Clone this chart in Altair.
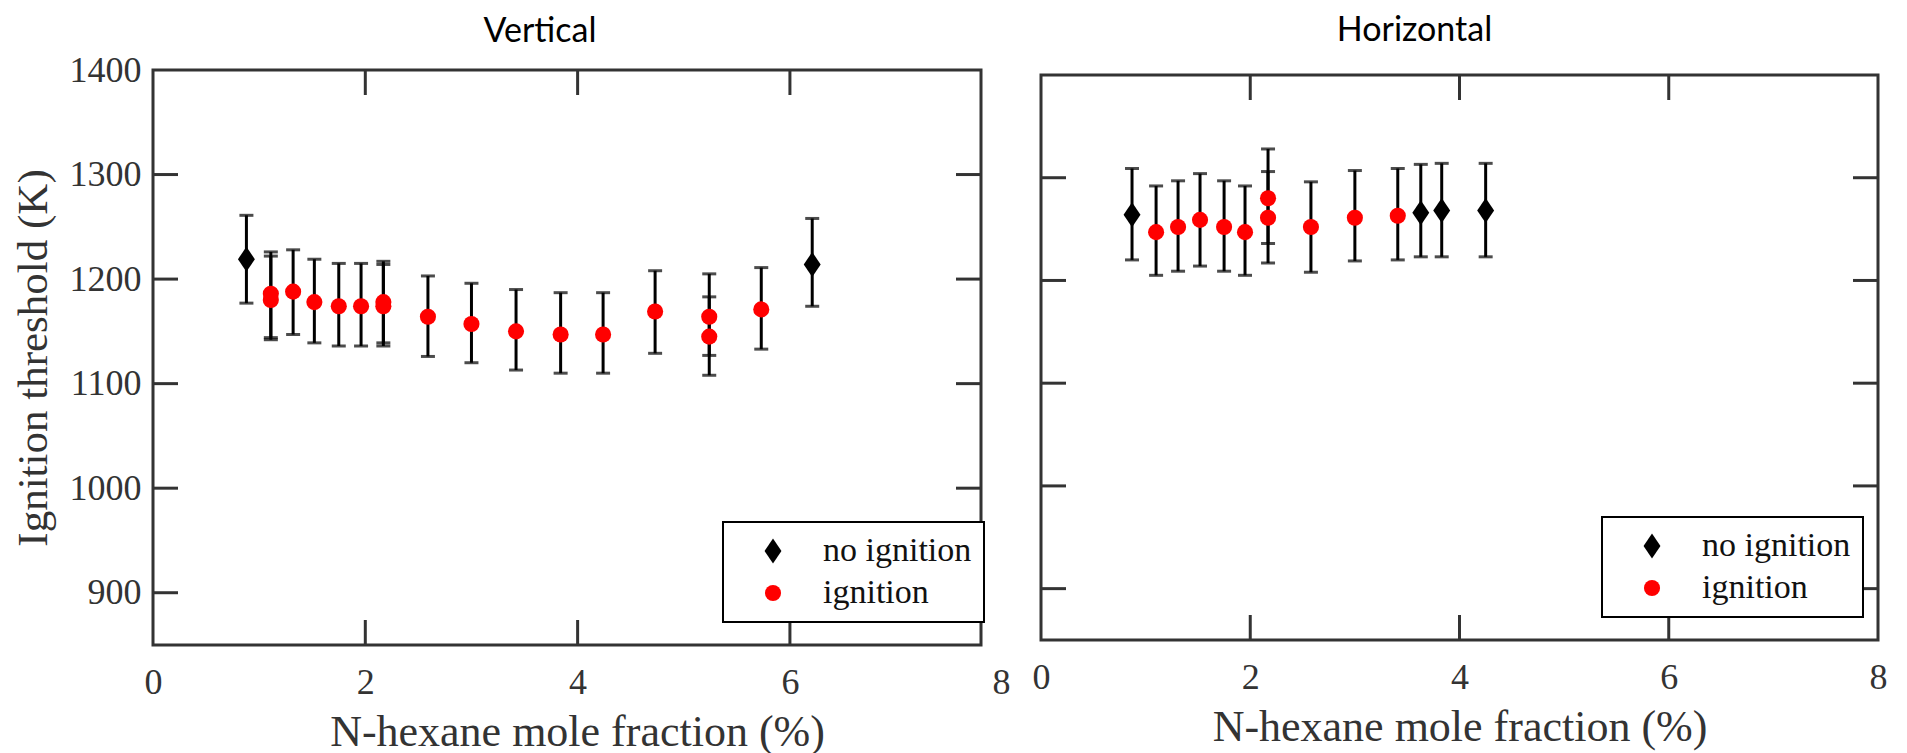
import altair as alt
import pandas as pd

CATEGORIES = ["no ignition", "ignition"]
COLORS = ["#000000", "#ff0000"]
DIAMOND = "M0,-1.55L1.05,0L0,1.55L-1.05,0Z"

# Vertical panel
v_x = [0.88, 1.11, 1.11, 1.32, 1.52, 1.75, 1.96, 2.17, 2.17, 2.59, 3.00, 3.42, 3.84, 4.24, 4.73, 5.24, 5.24, 5.73, 6.21]
v_y = [1219, 1186, 1180, 1188, 1178, 1174, 1174, 1178, 1174, 1164, 1157, 1150, 1147, 1147, 1169, 1164, 1145, 1171, 1214]
v_lo = [1177, 1144, 1142, 1147, 1139, 1136, 1136, 1139, 1136, 1126, 1120, 1113, 1110, 1110, 1129, 1127, 1108, 1133, 1174]
v_hi = [1261, 1226, 1222, 1228, 1219, 1215, 1215, 1217, 1214, 1203, 1196, 1190, 1187, 1187, 1208, 1205, 1183, 1211, 1258]
v_status = ["no ignition"] + ["ignition"] * 17 + ["no ignition"]

# Horizontal panel
h_x = [0.87, 1.10, 1.31, 1.52, 1.75, 1.95, 2.17, 2.17, 2.58, 3.00, 3.41, 3.63, 3.83, 4.25]
h_y = [1264, 1247, 1252, 1259, 1252, 1247, 1280, 1261, 1252, 1261, 1263, 1266, 1268, 1268]
h_lo = [1220, 1205, 1209, 1214, 1209, 1205, 1236, 1217, 1208, 1219, 1220, 1223, 1223, 1223]
h_hi = [1309, 1292, 1297, 1304, 1297, 1292, 1328, 1306, 1296, 1307, 1309, 1313, 1314, 1314]
h_status = ["no ignition"] + ["ignition"] * 10 + ["no ignition"] * 3

panel_titles = ["Vertical", "Horizontal"]
x_tick_vals = [2, 4, 6]
y_tick_vals = [900, 1000, 1100, 1200, 1300]
y_label_vals = [900, 1000, 1100, 1200, 1300, 1400]

FRAME = "#333333"
TICK_LEN = 25


def panel(x, y, lo, hi, status, xmax, x_label_vals, label_offset, width, height,
          title, title_dx, title_y, xtitle_dx, lx, ly, y_axis_on):
    df = pd.DataFrame({"x": x, "y": y, "lo": lo, "hi": hi, "status": status})
    xs = alt.Scale(domain=[0, xmax], nice=False, zero=False)
    ys = alt.Scale(domain=[850, 1400], nice=False, zero=False)
    xaxis = alt.Axis(values=x_label_vals, title="N-hexane mole fraction (%)",
                     ticks=False, domain=False, grid=False, labelFlush=False,
                     labelOverlap=False, labelPadding=20, titlePadding=10,
                     titleX=width / 2 + xtitle_dx,
                     labelExpr="datum.value > 7 ? '8' : datum.label",
                     labelOffset=label_offset)
    if y_axis_on:
        yaxis = alt.Axis(values=y_label_vals, title="Ignition threshold (K)",
                         ticks=False, domain=False, grid=False, format="d",
                         labelFlush=False, labelOverlap=False,
                         labelPadding=12, titlePadding=14, titleFontSize=43)
    else:
        yaxis = None

    def X(f):
        return alt.X(f + ":Q", scale=xs, axis=xaxis)

    def Y(f):
        return alt.Y(f + ":Q", scale=ys, axis=yaxis)

    xt = pd.DataFrame({"x": x_tick_vals})
    yt = pd.DataFrame({"y": y_tick_vals})
    rule = dict(color=FRAME, strokeWidth=3)
    t_bottom = alt.Chart(xt).mark_rule(**rule).encode(
        x=X("x"), y=alt.value(height), y2=alt.value(height - TICK_LEN))
    t_top = alt.Chart(xt).mark_rule(**rule).encode(
        x=X("x"), y=alt.value(0), y2=alt.value(TICK_LEN))
    t_left = alt.Chart(yt).mark_rule(**rule).encode(
        y=Y("y"), x=alt.value(0), x2=alt.value(TICK_LEN))
    t_right = alt.Chart(yt).mark_rule(**rule).encode(
        y=Y("y"), x=alt.value(width), x2=alt.value(width - TICK_LEN))

    err = alt.Chart(df).mark_rule(color="black", strokeWidth=3).encode(
        x=X("x"), y=Y("lo"), y2="hi:Q")
    caps = alt.Chart(df).transform_fold(["lo", "hi"], as_=["k", "v"]).mark_tick(
        orient="horizontal", color="black", thickness=3, size=14).encode(
        x=X("x"), y=Y("v"))
    leg = alt.Legend(orient="none", legendX=lx, legendY=ly, title=None,
                     labelFont="Liberation Serif", labelFontSize=34,
                     labelColor="#111111", symbolSize=260, symbolStrokeWidth=0,
                     symbolOffset=21, labelOffset=33, padding=12, rowPadding=8,
                     strokeColor="black", fillColor="white")
    pts = alt.Chart(df).mark_point(filled=True, size=260, opacity=1).encode(
        x=X("x"), y=Y("y"),
        color=alt.Color("status:N", scale=alt.Scale(domain=CATEGORIES, range=COLORS), legend=leg),
        shape=alt.Shape("status:N", scale=alt.Scale(domain=CATEGORIES, range=[DIAMOND, "circle"]), legend=leg),
    )
    ttl = alt.Chart(pd.DataFrame({"t": [title]})).mark_text(
        font="Lato", fontSize=34, color="black", align="center", baseline="alphabetic"
    ).encode(text="t:N", x=alt.value(width / 2 + title_dx), y=alt.value(title_y))
    return alt.layer(t_bottom, t_top, t_left, t_right, err, caps, pts, ttl).properties(
        width=width, height=height,
    )


left = panel(v_x, v_y, v_lo, v_hi, v_status, 7.8, [0, 2, 4, 6, 7.8],
             {"condition": {"test": "datum.value > 7", "value": 20}, "value": 0},
             828, 575, panel_titles[0], -27, -28, 10, 570, 452, True)
right = panel(h_x, h_y, h_lo, h_hi, h_status, 8, [0, 2, 4, 6, 8], 0,
              837, 565, panel_titles[1], -45, -34, 0, 561, 442, False)

chart = alt.hconcat(left, right, spacing=60, bounds="flush", center=True).resolve_scale(
    color="independent", shape="independent"
).properties(
    padding={"left": 10, "top": 12, "right": 5, "bottom": 0}
).configure_view(
    stroke=FRAME, strokeWidth=3
).configure_axis(
    labelFont="Liberation Serif", labelFontSize=36, labelColor="#333333",
    titleFont="Liberation Serif", titleFontSize=44, titleFontWeight="normal",
    titleColor="#333333"
).configure_legend(
    strokeWidth=2
)

chart.save("out.html", embed_options={"renderer": "svg", "actions": False})
